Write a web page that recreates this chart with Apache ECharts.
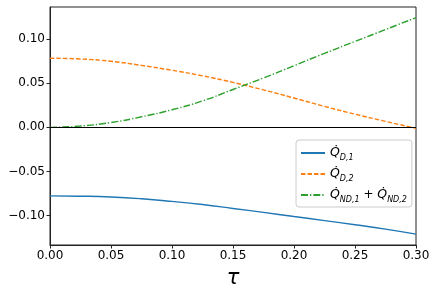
<!DOCTYPE html>
<html>
<head>
<meta charset="utf-8">
<script src="https://cdn.jsdelivr.net/npm/echarts@6/dist/echarts.min.js"></script>
<style>html,body{margin:0;padding:0;background:#fff}#c{width:436px;height:291px}</style>
</head>
<body>
<div id="c"></div>
<script>
const tau = [0, 0.025, 0.05, 0.075, 0.1, 0.125, 0.15, 0.175, 0.2, 0.225, 0.25, 0.275, 0.3];
const qD1 = [-0.0778, -0.0781, -0.0790, -0.0810, -0.0840, -0.0876, -0.0920, -0.0965, -0.1012, -0.1058, -0.1105, -0.1155, -0.1212];
const qD2 = [0.0785, 0.0776, 0.0750, 0.0703, 0.0648, 0.0585, 0.0510, 0.0425, 0.0333, 0.0238, 0.0150, 0.0068, -0.0010];
const qND = [0, 0.0015, 0.0055, 0.0120, 0.0200, 0.0300, 0.0430, 0.0560, 0.0700, 0.0840, 0.0975, 0.1110, 0.1245];
const xTicks = [0, 0.05, 0.1, 0.15, 0.2, 0.25, 0.3];
const yTicks = [-0.1, -0.05, 0, 0.05, 0.1];
const names = ['QD1', 'QD2', 'QND'];

const font = 'DejaVu Sans';
const fmt = v => (v < 0 ? '\u2212' : '') + Math.abs(v).toFixed(2);
const pairs = (xs, ys) => xs.map((x, i) => [x, ys[i]]);

const chart = echarts.init(document.getElementById('c'), null, {renderer: 'canvas'});
chart.setOption({
  animation: false,
  backgroundColor: '#fff',
  grid: {left: 50, right: 20, top: 7, bottom: 46, show: true, borderColor: '#222', borderWidth: 1,
         backgroundColor: 'transparent', containLabel: false, outerBoundsMode: 'none'},
  xAxis: {
    type: 'value', min: 0, max: 0.3, interval: 0.05,
    axisLine: {show: true, lineStyle: {color: '#222', width: 1}, onZero: false},
    axisTick: {show: true, length: 3.5, lineStyle: {color: '#222'}, customValues: xTicks},
    axisLabel: {color: '#000', fontFamily: font, fontSize: 12, margin: 5, formatter: v => v.toFixed(2), customValues: xTicks, showMinLabel: true, showMaxLabel: true},
    splitLine: {show: false},
    name: '\u03C4', nameLocation: 'middle', nameGap: 23,
    nameTextStyle: {fontFamily: font, fontSize: 21, fontStyle: 'italic', color: '#000'}
  },
  yAxis: {
    type: 'value', min: -0.1335, max: 0.1366,
    axisLine: {show: true, lineStyle: {color: '#222', width: 1}, onZero: false},
    axisTick: {show: true, length: 3.5, lineStyle: {color: '#222'}, customValues: yTicks},
    axisLabel: {color: '#000', fontFamily: font, fontSize: 12, margin: 5, formatter: fmt, customValues: yTicks},
    splitLine: {show: false}
  },
  legend: {
    orient: 'vertical', left: 296, top: 140,
    data: names,
    backgroundColor: 'rgba(255,255,255,0.8)', borderColor: '#ccc', borderWidth: 1, borderRadius: 3,
    padding: [4, 5, 3, 4], itemGap: 3, itemWidth: 24, itemHeight: 14,
    itemStyle: {opacity: 0, borderWidth: 0},
    formatter: n => {
      if (n === 'QD1') return '{q|Q\u0307}{s|D,1}';
      if (n === 'QD2') return '{q|Q\u0307}{s|D,2}';
      return '{q|Q\u0307}{s|ND,1}{o| + }{q|Q\u0307}{s|ND,2}';
    },
    textStyle: {
      fontFamily: font, color: '#000', lineHeight: 18,
      rich: {
        q: {fontFamily: font, fontSize: 12.5, fontStyle: 'italic', color: '#000', verticalAlign: 'middle', lineHeight: 18},
        s: {fontFamily: font, fontSize: 8, fontStyle: 'italic', color: '#000', verticalAlign: 'bottom', lineHeight: 18},
        o: {fontFamily: font, fontSize: 12, color: '#000', verticalAlign: 'middle', lineHeight: 18}
      }
    }
  },
  series: [
    {name: 'QD1', type: 'line', data: pairs(tau, qD1), smooth: true, symbol: 'none',
     lineStyle: {color: '#1f77b4', width: 1.4, type: 'solid'}, itemStyle: {color: '#1f77b4'}, z: 3,
     markLine: {silent: true, symbol: 'none', label: {show: false}, animation: false,
       lineStyle: {color: '#000', width: 1, type: 'solid'}, data: [{yAxis: 0}]}},
    {name: 'QD2', type: 'line', data: pairs(tau, qD2), smooth: true, symbol: 'none',
     lineStyle: {color: '#ff7f0e', width: 1.4, type: [4.5, 2]}, itemStyle: {color: '#ff7f0e'}, z: 4},
    {name: 'QND', type: 'line', data: pairs(tau, qND), smooth: true, symbol: 'none',
     lineStyle: {color: '#2ca02c', width: 1.4, type: [7, 2, 1.3, 2]}, itemStyle: {color: '#2ca02c'}, z: 4}
  ]
});
</script>
</body>
</html>
